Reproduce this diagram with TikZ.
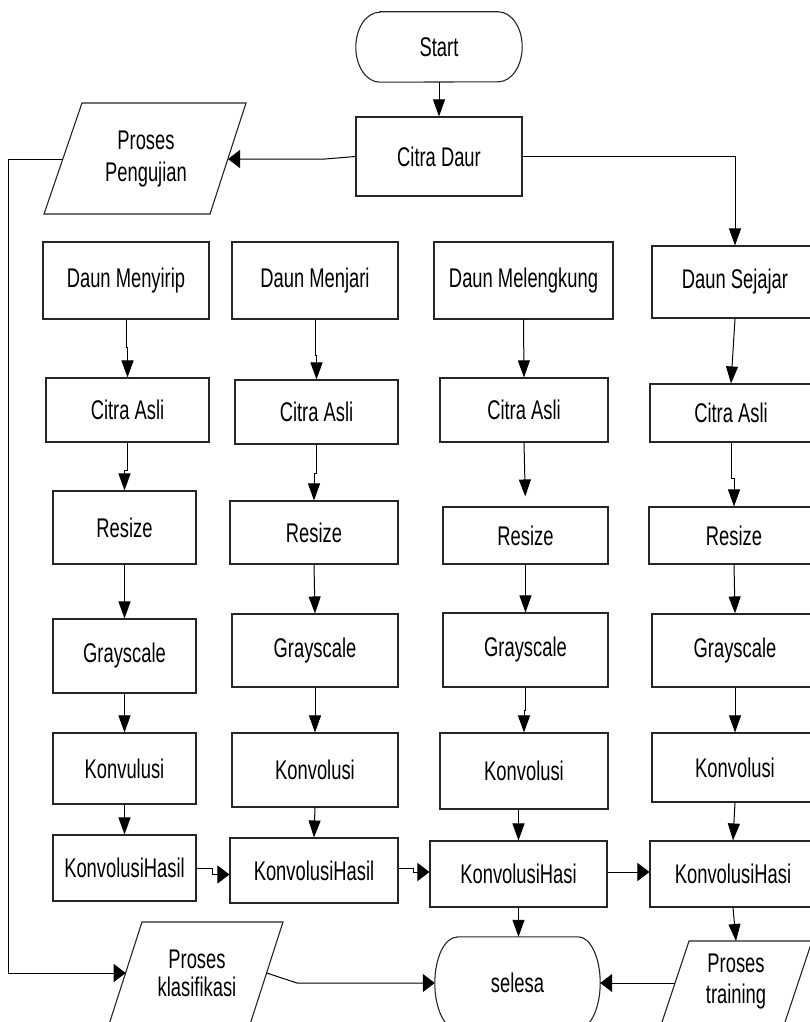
\documentclass[tikz,border=0pt]{standalone}
\usepackage{fontspec}
\setmainfont[FakeStretch=0.68]{Liberation Sans}
\usetikzlibrary{arrows.meta}
\begin{document}
\begin{tikzpicture}[x=1pt,y=-1pt,
  outl/.style={draw=black!85, line width=1.1pt},
  box/.style={outl, fill=white, inner sep=0pt, align=center, font=\fontsize{27}{32}\selectfont},
  lbl/.style={inner sep=0pt, align=center, font=\fontsize{27}{32}\selectfont},
  va/.style={draw=black, line width=1pt, -{Triangle[length=17pt,width=12pt]}},
  ha/.style={draw=black, line width=1pt, -{Triangle[length=12pt,width=18pt]}}]
\useasboundingbox (0,0) rectangle (810,1022);
\clip (0,0) rectangle (810,1022);
\fill[white] (0,0) rectangle (810,1022);

% terminals and top process
\node[lbl, minimum width=166pt, minimum height=70pt] (start) at (439,47) {Start};
\draw[outl] ([xshift=24pt]start.north west) -- ([xshift=-24pt]start.north east)
  arc[start angle=90,end angle=-90,x radius=24pt,y radius=35pt]
  -- ([xshift=24pt]start.south west)
  arc[start angle=270,end angle=90,x radius=24pt,y radius=35pt] -- cycle;
\node[box, minimum width=166pt, minimum height=79pt] (citra) at (439,156.5) {Citra Daur};

\node[lbl, minimum width=165pt, minimum height=92pt] (sel) at (517.5,983) {selesa};
\draw[outl] ([xshift=22pt]sel.north west) -- ([xshift=-22pt]sel.north east)
  arc[start angle=90,end angle=-90,x radius=22pt,y radius=46pt]
  -- ([xshift=22pt]sel.south west)
  arc[start angle=270,end angle=90,x radius=22pt,y radius=46pt] -- cycle;

% parallelograms
\draw[outl] (82,103) -- (246,103) -- (210,214) -- (44,214) -- cycle;
\node[lbl, font=\fontsize{27}{32}\selectfont] (peng) at (146,159) {Proses\\Pengujian};
\coordinate (pengR) at (228,159);
\coordinate (pengL) at (63,159);

\draw[outl] (142,922) -- (283,922) -- (245,1040) -- (104,1040) -- cycle;
\node[lbl, font=\fontsize{27}{28}\selectfont] (klas) at (197,973.5) {Proses\\klasifikasi};
\coordinate (klasL) at (125.7,973);
\coordinate (klasR) at (266.7,973);

\draw[outl] (689,941) -- (812,941) -- (779,1040) -- (656,1040) -- cycle;
\node[lbl, font=\fontsize{27}{31}\selectfont] (train) at (736,982) {Proses\\training};
\coordinate (trainL) at (675,983);
\coordinate (trainT) at (736,941);

% column 1
\node[box, minimum width=166pt, minimum height=77pt] (dm1) at (126,280.5) {Daun Menyirip};
\node[box, minimum width=163pt, minimum height=64pt] (ca1) at (127.5,410) {Citra Asli};
\node[box, minimum width=143pt, minimum height=73pt] (r1) at (124.5,527.5) {Resize};
\node[box, minimum width=143pt, minimum height=74pt] (g1) at (124.5,656) {Grayscale};
\node[box, minimum width=143pt, minimum height=71pt] (k1) at (124.5,768.5) {Konvulusi};
\node[box, minimum width=143pt, minimum height=66pt] (kh1) at (124.5,868) {KonvolusiHasil};
% column 2
\node[box, minimum width=166pt, minimum height=77pt] (dm2) at (315,280.5) {Daun Menjari};
\node[box, minimum width=163pt, minimum height=64pt] (ca2) at (316.5,412) {Citra Asli};
\node[box, minimum width=168pt, minimum height=63pt] (r2) at (314,532.5) {Resize};
\node[box, minimum width=166pt, minimum height=73pt] (g2) at (315,650.5) {Grayscale};
\node[box, minimum width=166pt, minimum height=74pt] (k2) at (315,770) {Konvolusi};
\node[box, minimum width=168pt, minimum height=65pt] (kh2) at (314,870.5) {KonvolusiHasil};
% column 3
\node[box, minimum width=179pt, minimum height=77pt] (dm3) at (523.5,280.5) {Daun Melengkung};
\node[box, minimum width=168pt, minimum height=64pt] (ca3) at (524,410) {Citra Asli};
\node[box, minimum width=165pt, minimum height=57pt] (r3) at (525.5,535.5) {Resize};
\node[box, minimum width=165pt, minimum height=74pt] (g3) at (525.5,650) {Grayscale};
\node[box, minimum width=168pt, minimum height=76pt] (k3) at (524,771) {Konvolusi};
\node[box, minimum width=177pt, minimum height=66pt] (kh3) at (518.5,874) {KonvolusiHasi};
% column 4
\node[box, minimum width=166pt, minimum height=72pt] (dm4) at (735,282) {Daun Sejajar};
\node[box, minimum width=162pt, minimum height=58pt] (ca4) at (731,413) {Citra Asli};
\node[box, minimum width=170pt, minimum height=57pt] (r4) at (734,535.5) {Resize};
\node[box, minimum width=166pt, minimum height=73pt] (g4) at (735,650.5) {Grayscale};
\node[box, minimum width=166pt, minimum height=69pt] (k4) at (735,767.5) {Konvolusi};
\node[box, minimum width=166pt, minimum height=66pt] (kh4) at (733,874) {KonvolusiHasi};

% top connectors
\draw[va] (start.south) -- (citra.north);
\draw[ha] (citra.west) -- (325,159) -- (pengR);
\draw[va] (citra.east) -| (dm4.north);
\coordinate (lft) at (8,159);
\draw[ha] (pengL) -- (lft) |- (klasL);

% column 1 arrows
\draw[va] (dm1.south) -- ++(0,28) -| (ca1.north);
\draw[va] (ca1.south) -- ++(0,28) -| (r1.north);
\draw[va] (r1.south) -- (g1.north);
\draw[va] (g1.south) -- (k1.north);
\draw[va] (k1.south) -- (kh1.north);
% column 2 arrows
\draw[va] (dm2.south) -- ++(0,36) -| (ca2.north);
\draw[va] (ca2.south) -- ++(0,29) -| (r2.north);
\draw[va] (r2.south) -- (g2.north);
\draw[va] (g2.south) -- (k2.north);
\draw[va] (k2.south) -- (kh2.north);
% column 3 arrows
\draw[va] (dm3.south) -- (ca3.north);
\draw[va, shorten >=10pt] (ca3.south) -- (r3.north);
\draw[va] (r3.south) -- (g3.north);
\draw[va] (g3.south) -- ++(0,23) -| (k3.north);
\draw[va] (kh3.north |- k3.south) -- (kh3.north);
% column 4 arrows
\draw[va] (dm4.south) -- (ca4.north);
\draw[va] (ca4.south) -- ++(0,36) -| (r4.north);
\draw[va] (r4.south) -- (g4.north);
\draw[va] (g4.south) -- (k4.north);
\draw[va] (k4.south) -- (kh4.north);

% bottom row connectors
\draw[ha] (kh1.east) -- ++(16,0) |- ([yshift=-4pt]kh2.west -| kh2.west);
\draw[ha] ([yshift=2.5pt]kh2.east) -- ++(15,0) |- ([yshift=2pt]kh3.west);
\draw[ha] ([yshift=2pt]kh3.east) -- ([yshift=2pt]kh4.west);
\draw[va] (kh3.south) -- (kh3.south |- sel.north);
\draw[va] (kh4.south) -- (trainT);
\draw[ha] (klasR) -- (297,983) -- (sel.west);
\draw[ha] (trainL) -- (sel.east);
\end{tikzpicture}
\end{document}
